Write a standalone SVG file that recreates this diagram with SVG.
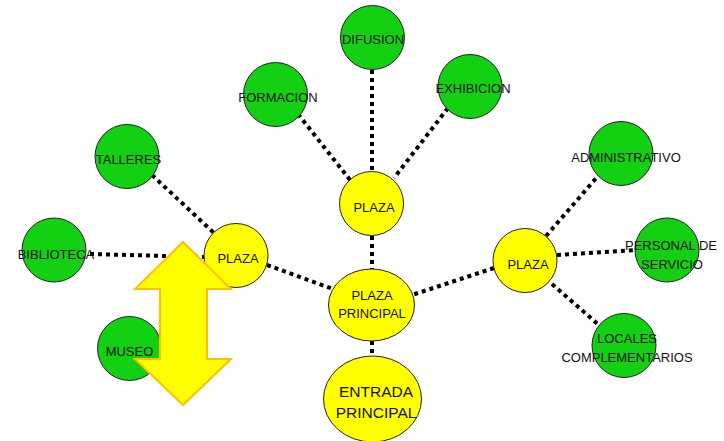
<svg xmlns="http://www.w3.org/2000/svg" width="724" height="441" viewBox="0 0 724 441">
<style>
.g{fill:#13d013;stroke:#222;stroke-width:1}
.y{fill:#ffff00;stroke:#222;stroke-width:1}
.c{stroke:#000;stroke-width:4;stroke-dasharray:4 4;fill:none}
text{font-family:"Liberation Sans",Arial,sans-serif;font-size:13px;fill:#111;text-anchor:middle;dominant-baseline:central}
.big{font-size:15.5px}
</style>
<rect width="724" height="441" fill="#fff"/>
<g id="connectors">
<line class="c" x1="372" y1="70" x2="372" y2="172"/>
<line class="c" x1="298" y1="114" x2="350" y2="180"/>
<line class="c" x1="448" y1="108" x2="394" y2="178"/>
<line class="c" x1="372" y1="236" x2="372" y2="269"/>
<line class="c" x1="267" y1="265" x2="333" y2="289"/>
<line class="c" x1="152" y1="175" x2="214" y2="233"/>
<line class="c" x1="90" y1="254" x2="204" y2="257"/>
<line class="c" x1="494" y1="268" x2="412" y2="295"/>
<line class="c" x1="546" y1="236" x2="598" y2="176"/>
<line class="c" x1="557" y1="255" x2="636" y2="250"/>
<line class="c" x1="552" y1="284" x2="600" y2="326"/>
<line class="c" x1="372" y1="341" x2="372" y2="357"/>
</g>
<g id="difusion"><circle class="g" cx="372.5" cy="37.5" r="32"/><text x="373" y="39">DIFUSION</text></g>
<g id="formacion"><circle class="g" cx="275.5" cy="94.5" r="32"/><text x="278" y="97">FORMACION</text></g>
<g id="exhibicion"><circle class="g" cx="470" cy="86.5" r="32"/><text x="473" y="88">EXHIBICION</text></g>
<g id="plaza-top"><circle class="y" cx="371.5" cy="203.5" r="32"/><text x="374" y="207">PLAZA</text></g>
<g id="talleres"><circle class="g" cx="127" cy="156.5" r="32"/><text x="128.5" y="159">TALLERES</text></g>
<g id="biblioteca"><circle class="g" cx="54" cy="250" r="32"/><text x="56" y="254">BIBLIOTECA</text></g>
<g id="plaza-left"><circle class="y" cx="236" cy="255.5" r="32"/><text x="238" y="258">PLAZA</text></g>
<g id="museo"><circle class="g" cx="129.5" cy="348.5" r="32"/><text x="129.5" y="351">MUSEO</text></g>
<g id="plaza-principal"><ellipse class="y" cx="371.5" cy="305" rx="43" ry="36"/><text x="372" y="295">PLAZA</text><text x="372" y="313">PRINCIPAL</text></g>
<g id="entrada-principal"><ellipse class="y" cx="372.5" cy="399" rx="49" ry="43"/><text class="big" x="376" y="391">ENTRADA</text><text class="big" x="376" y="412">PRINCIPAL</text></g>
<g id="plaza-right"><circle class="y" cx="525" cy="260.5" r="32"/><text x="528" y="264">PLAZA</text></g>
<g id="administrativo"><circle class="g" cx="621" cy="153.5" r="32"/><text x="626" y="157">ADMINISTRATIVO</text></g>
<g id="personal"><circle class="g" cx="667" cy="250" r="32"/><text x="671" y="245">PERSONAL DE</text><text x="672" y="264">SERVICIO</text></g>
<g id="locales"><circle class="g" cx="624" cy="345.5" r="32"/><text x="627" y="338">LOCALES</text><text x="627" y="357">COMPLEMENTARIOS</text></g>
<g id="arrow"><polygon points="183,242 231,289 207,289 207,359 231,359 183,405 135,359 160,359 160,289 135,289" fill="#ffff00" stroke="#ffc000" stroke-width="2" stroke-linejoin="miter"/></g>
</svg>
